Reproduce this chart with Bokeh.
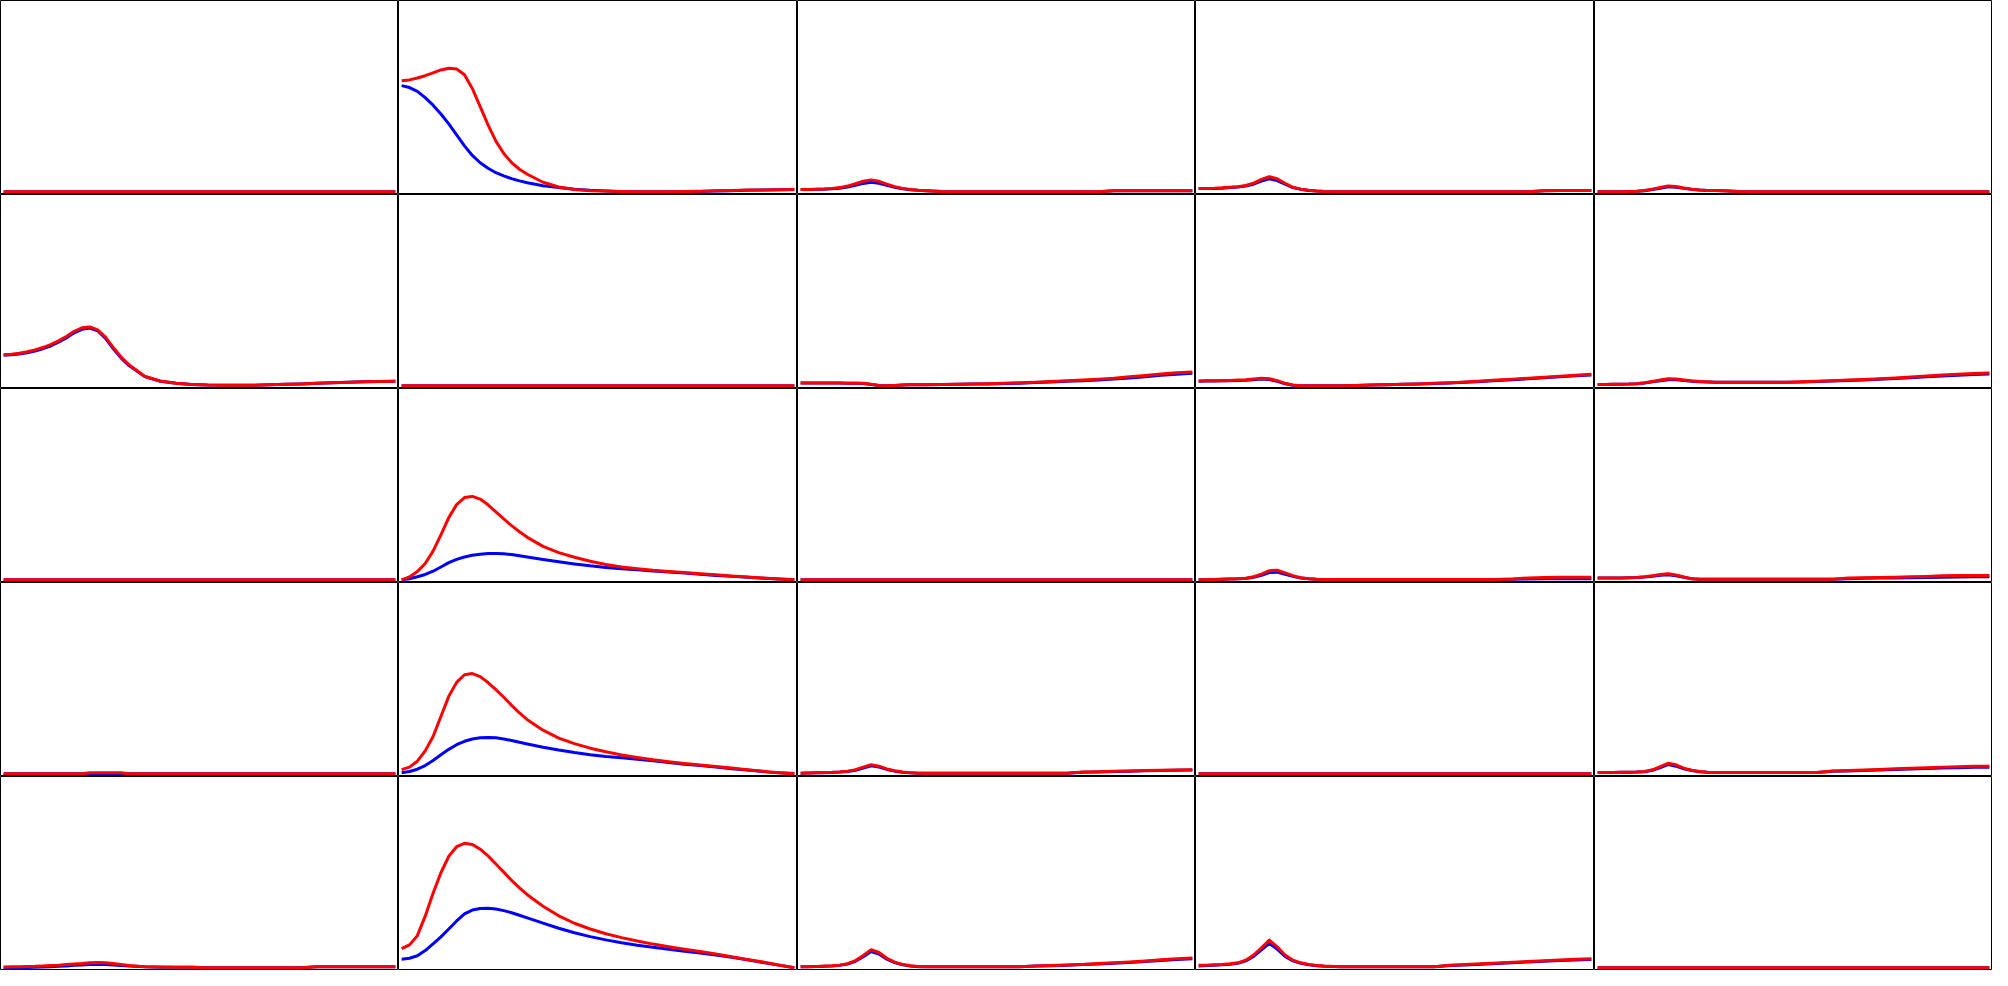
from bokeh.plotting import figure
from bokeh.layouts import gridplot
from bokeh.models import Range1d
from bokeh.embed import file_html
from bokeh.resources import INLINE

# shared x positions (fraction of each panel's time axis)
x_vals = [0.00, 0.02, 0.04, 0.06, 0.08, 0.10, 0.12, 0.14, 0.16, 0.18, 0.20, 0.22, 0.24,
          0.26, 0.28, 0.30, 0.32, 0.36, 0.40, 0.44, 0.48, 0.52, 0.56, 0.60, 0.64, 0.68,
          0.72, 0.76, 0.80, 0.84, 0.88, 0.92, 0.96, 1.00]

flat = [0, 0, 0, 0, 0, 0, 0, 0, 0, 0, 0, 0, 0, 0, 0, 0, 0,
        0, 0, 0, 0, 0, 0, 0, 0, 0, 0, 0, 0, 0, 0, 0, 0, 0]

# ---- row 1 ----
blue_r1c1 = flat
red_r1c1 = flat
blue_r1c2 = [0.555, 0.545, 0.525, 0.492, 0.453, 0.407, 0.355, 0.298, 0.24, 0.19, 0.152, 0.123, 0.1,
             0.083, 0.069, 0.057, 0.047, 0.032, 0.022, 0.014, 0.008, 0.004, 0.001, 0.0, 0.0, 0.0,
             0.001, 0.002, 0.004, 0.006, 0.008, 0.01, 0.011, 0.012]
red_r1c2 = [0.58, 0.585, 0.595, 0.607, 0.622, 0.637, 0.646, 0.642, 0.612, 0.54, 0.445, 0.35, 0.265,
            0.2, 0.153, 0.118, 0.092, 0.05, 0.025, 0.012, 0.006, 0.004, 0.002, 0.001, 0.0, 0.001,
            0.002, 0.003, 0.005, 0.007, 0.009, 0.01, 0.011, 0.012]
blue_r1c3 = [0.012, 0.012, 0.013, 0.014, 0.016, 0.019, 0.025, 0.034, 0.044, 0.05, 0.045, 0.034, 0.024,
             0.016, 0.011, 0.008, 0.006, 0.002, 0.0, 0.0, 0.0, 0.0, 0.0, 0.0, 0.0, 0.0,
             0.0, 0.0, 0.005, 0.006, 0.006, 0.006, 0.006, 0.006]
red_r1c3 = [0.012, 0.012, 0.013, 0.015, 0.018, 0.022, 0.03, 0.042, 0.055, 0.062, 0.055, 0.04, 0.027,
            0.018, 0.012, 0.008, 0.006, 0.002, 0.0, 0.0, 0.0, 0.0, 0.0, 0.0, 0.0, 0.0,
            0.0, 0.0, 0.005, 0.006, 0.006, 0.006, 0.006, 0.006]
blue_r1c4 = [0.017, 0.017, 0.018, 0.019, 0.022, 0.025, 0.03, 0.04, 0.056, 0.068, 0.059, 0.04, 0.022,
             0.013, 0.007, 0.004, 0.002, 0.0, 0.0, 0.0, 0.0, 0.0, 0.0, 0.0, 0.0, 0.0,
             0.0, 0.0, 0.0, 0.0, 0.006, 0.007, 0.007, 0.007]
red_r1c4 = [0.018, 0.018, 0.019, 0.021, 0.024, 0.027, 0.033, 0.045, 0.065, 0.079, 0.068, 0.045, 0.024,
            0.014, 0.008, 0.004, 0.002, 0.0, 0.0, 0.0, 0.0, 0.0, 0.0, 0.0, 0.0, 0.0,
            0.0, 0.0, 0.0, 0.0, 0.006, 0.007, 0.007, 0.007]
blue_r1c5 = [0.0, 0.0, 0.0, 0.001, 0.002, 0.003, 0.006, 0.012, 0.019, 0.026, 0.024, 0.018, 0.013,
             0.009, 0.007, 0.007, 0.006, 0.002, 0.0, 0.0, 0.0, 0.0, 0.0, 0.0, 0.0, 0.0,
             0.0, 0.0, 0.0, 0.0, 0.0, 0.0, 0.0, 0.0]
red_r1c5 = [0.0, 0.0, 0.0, 0.001, 0.002, 0.003, 0.007, 0.014, 0.023, 0.031, 0.028, 0.02, 0.014,
            0.009, 0.007, 0.007, 0.006, 0.002, 0.0, 0.0, 0.0, 0.0, 0.0, 0.0, 0.0, 0.0,
            0.0, 0.0, 0.0, 0.0, 0.0, 0.0, 0.0, 0.0]

# ---- row 2 ----
blue_r2c1 = [0.16, 0.162, 0.166, 0.173, 0.182, 0.194, 0.208, 0.228, 0.25, 0.277, 0.295, 0.302, 0.288,
             0.248, 0.193, 0.145, 0.106, 0.048, 0.024, 0.013, 0.007, 0.004, 0.003, 0.003, 0.003, 0.005,
             0.008, 0.01, 0.013, 0.016, 0.019, 0.021, 0.023, 0.024]
red_r2c1 = [0.162, 0.165, 0.17, 0.178, 0.188, 0.2, 0.215, 0.235, 0.258, 0.285, 0.303, 0.308, 0.292,
            0.255, 0.2, 0.15, 0.11, 0.05, 0.025, 0.013, 0.007, 0.004, 0.003, 0.003, 0.003, 0.005,
            0.008, 0.01, 0.013, 0.016, 0.019, 0.021, 0.023, 0.024]
blue_r2c2 = flat
red_r2c2 = flat
blue_r2c3 = [0.015, 0.015, 0.015, 0.015, 0.015, 0.015, 0.014, 0.014, 0.012, 0.007, 0.002, 0.0, 0.002,
             0.004, 0.005, 0.005, 0.006, 0.007, 0.008, 0.009, 0.01, 0.012, 0.014, 0.017, 0.02, 0.024,
             0.027, 0.031, 0.035, 0.041, 0.048, 0.055, 0.061, 0.066]
red_r2c3 = [0.015, 0.015, 0.015, 0.015, 0.015, 0.015, 0.014, 0.014, 0.013, 0.008, 0.002, 0.0, 0.002,
            0.004, 0.005, 0.005, 0.006, 0.007, 0.008, 0.009, 0.011, 0.013, 0.016, 0.019, 0.023, 0.027,
            0.031, 0.035, 0.04, 0.047, 0.054, 0.062, 0.068, 0.072]
blue_r2c4 = [0.024, 0.025, 0.025, 0.026, 0.027, 0.028, 0.029, 0.032, 0.035, 0.033, 0.024, 0.011, 0.003,
             0.0, 0.0, 0.0, 0.0, 0.001, 0.002, 0.004, 0.006, 0.008, 0.01, 0.012, 0.015, 0.019,
             0.023, 0.028, 0.032, 0.037, 0.042, 0.047, 0.052, 0.056]
red_r2c4 = [0.025, 0.026, 0.026, 0.027, 0.028, 0.03, 0.032, 0.036, 0.04, 0.037, 0.027, 0.013, 0.004,
            0.001, 0.0, 0.0, 0.0, 0.001, 0.002, 0.004, 0.006, 0.008, 0.01, 0.013, 0.016, 0.02,
            0.025, 0.03, 0.035, 0.04, 0.045, 0.05, 0.055, 0.06]
blue_r2c5 = [0.007, 0.007, 0.008, 0.008, 0.009, 0.011, 0.015, 0.021, 0.027, 0.032, 0.032, 0.028, 0.024,
             0.021, 0.02, 0.019, 0.019, 0.019, 0.019, 0.019, 0.019, 0.02, 0.023, 0.025, 0.028, 0.031,
             0.034, 0.038, 0.042, 0.047, 0.051, 0.055, 0.059, 0.062]
red_r2c5 = [0.007, 0.007, 0.008, 0.008, 0.009, 0.011, 0.016, 0.023, 0.03, 0.037, 0.036, 0.031, 0.026,
            0.023, 0.021, 0.019, 0.019, 0.019, 0.019, 0.019, 0.019, 0.021, 0.024, 0.027, 0.03, 0.033,
            0.037, 0.041, 0.046, 0.051, 0.056, 0.06, 0.064, 0.067]

# ---- row 3 ----
blue_r3c1 = flat
red_r3c1 = flat
blue_r3c2 = [0.0, 0.006, 0.016, 0.028, 0.045, 0.067, 0.09, 0.107, 0.119, 0.128, 0.134, 0.137, 0.138,
             0.136, 0.132, 0.126, 0.119, 0.106, 0.094, 0.083, 0.073, 0.065, 0.058, 0.052, 0.046, 0.041,
             0.035, 0.029, 0.023, 0.018, 0.013, 0.008, 0.004, 0.0]
red_r3c2 = [0.0, 0.015, 0.043, 0.085, 0.15, 0.235, 0.325, 0.393, 0.43, 0.436, 0.422, 0.392, 0.355,
            0.318, 0.283, 0.251, 0.222, 0.175, 0.142, 0.118, 0.097, 0.08, 0.067, 0.058, 0.05, 0.044,
            0.038, 0.032, 0.026, 0.02, 0.015, 0.009, 0.004, 0.0]
blue_r3c3 = flat
red_r3c3 = flat
blue_r3c4 = [0.0, 0.001, 0.002, 0.003, 0.004, 0.005, 0.007, 0.013, 0.024, 0.038, 0.04, 0.029, 0.018,
             0.009, 0.005, 0.003, 0.002, 0.002, 0.002, 0.002, 0.002, 0.002, 0.002, 0.002, 0.002, 0.002,
             0.002, 0.002, 0.003, 0.004, 0.005, 0.005, 0.006, 0.006]
red_r3c4 = [0.0, 0.001, 0.002, 0.003, 0.004, 0.005, 0.008, 0.016, 0.03, 0.048, 0.05, 0.036, 0.022,
            0.011, 0.006, 0.003, 0.002, 0.002, 0.002, 0.002, 0.002, 0.002, 0.002, 0.002, 0.002, 0.002,
            0.002, 0.002, 0.004, 0.01, 0.012, 0.013, 0.014, 0.014]
blue_r3c5 = [0.009, 0.009, 0.01, 0.01, 0.011, 0.012, 0.015, 0.019, 0.024, 0.027, 0.021, 0.013, 0.005,
             0.003, 0.003, 0.003, 0.003, 0.003, 0.003, 0.003, 0.003, 0.003, 0.003, 0.003, 0.006, 0.008,
             0.009, 0.01, 0.011, 0.012, 0.014, 0.015, 0.016, 0.016]
red_r3c5 = [0.009, 0.009, 0.01, 0.01, 0.011, 0.012, 0.016, 0.022, 0.028, 0.032, 0.025, 0.015, 0.006,
            0.003, 0.003, 0.003, 0.003, 0.003, 0.003, 0.003, 0.003, 0.003, 0.003, 0.003, 0.009, 0.011,
            0.012, 0.014, 0.016, 0.018, 0.021, 0.022, 0.022, 0.022]

# ---- row 4 ----
blue_r4c1 = flat
red_r4c1 = [0.0, 0.0, 0.0, 0.0, 0.0, 0.0, 0.0, 0.0, 0.0, 0.0, 0.0, 0.006, 0.006,
            0.006, 0.006, 0.006, 0.0, 0.0, 0.0, 0.0, 0.0, 0.0, 0.0, 0.0, 0.0, 0.0,
            0.0, 0.0, 0.0, 0.0, 0.0, 0.0, 0.0, 0.0]
blue_r4c2 = [0.006, 0.012, 0.024, 0.043, 0.07, 0.1, 0.128, 0.152, 0.17, 0.182, 0.188, 0.19, 0.188,
             0.182, 0.174, 0.165, 0.156, 0.139, 0.124, 0.111, 0.1, 0.091, 0.084, 0.076, 0.068, 0.059,
             0.05, 0.043, 0.035, 0.027, 0.02, 0.012, 0.006, 0.002]
red_r4c2 = [0.022, 0.035, 0.066, 0.12, 0.195, 0.3, 0.405, 0.478, 0.518, 0.524, 0.508, 0.477, 0.44,
            0.4, 0.358, 0.318, 0.283, 0.228, 0.187, 0.158, 0.134, 0.115, 0.098, 0.085, 0.073, 0.063,
            0.054, 0.046, 0.038, 0.03, 0.021, 0.013, 0.006, 0.0]
blue_r4c3 = [0.003, 0.004, 0.005, 0.006, 0.007, 0.009, 0.012, 0.019, 0.03, 0.042, 0.035, 0.023, 0.014,
             0.008, 0.005, 0.003, 0.003, 0.003, 0.003, 0.003, 0.003, 0.003, 0.003, 0.003, 0.003, 0.003,
             0.008, 0.01, 0.012, 0.014, 0.016, 0.018, 0.019, 0.02]
red_r4c3 = [0.003, 0.004, 0.005, 0.007, 0.008, 0.01, 0.014, 0.022, 0.035, 0.048, 0.04, 0.026, 0.016,
            0.009, 0.005, 0.003, 0.003, 0.003, 0.003, 0.003, 0.003, 0.003, 0.003, 0.003, 0.003, 0.003,
            0.009, 0.011, 0.013, 0.015, 0.017, 0.019, 0.02, 0.021]
blue_r4c4 = flat
red_r4c4 = flat
blue_r4c5 = [0.007, 0.007, 0.007, 0.008, 0.008, 0.009, 0.011, 0.018, 0.033, 0.048, 0.04, 0.026, 0.017,
             0.011, 0.008, 0.007, 0.007, 0.007, 0.007, 0.007, 0.007, 0.007, 0.007, 0.013, 0.015, 0.017,
             0.02, 0.022, 0.025, 0.028, 0.03, 0.032, 0.034, 0.035]
red_r4c5 = [0.007, 0.007, 0.007, 0.008, 0.008, 0.009, 0.012, 0.021, 0.038, 0.055, 0.047, 0.03, 0.019,
            0.012, 0.008, 0.007, 0.007, 0.007, 0.007, 0.007, 0.007, 0.007, 0.007, 0.015, 0.017, 0.02,
            0.023, 0.026, 0.029, 0.032, 0.035, 0.037, 0.039, 0.04]

# ---- row 5 ----
blue_r5c1 = [0.0, 0.0, 0.001, 0.002, 0.003, 0.004, 0.006, 0.008, 0.01, 0.013, 0.015, 0.017, 0.018,
             0.017, 0.015, 0.012, 0.009, 0.005, 0.003, 0.003, 0.003, 0.0, 0.0, 0.0, 0.0, 0.0,
             0.0, 0.0, 0.005, 0.005, 0.005, 0.005, 0.005, 0.005]
red_r5c1 = [0.004, 0.005, 0.006, 0.007, 0.008, 0.01, 0.012, 0.014, 0.017, 0.02, 0.023, 0.027, 0.028,
            0.026, 0.022, 0.017, 0.012, 0.006, 0.004, 0.003, 0.003, 0.0, 0.0, 0.0, 0.0, 0.0,
            0.0, 0.0, 0.005, 0.005, 0.005, 0.005, 0.005, 0.005]
blue_r5c2 = [0.045, 0.05, 0.063, 0.09, 0.125, 0.162, 0.203, 0.245, 0.282, 0.302, 0.31, 0.311, 0.307,
             0.299, 0.288, 0.275, 0.261, 0.234, 0.207, 0.183, 0.163, 0.146, 0.131, 0.118, 0.107, 0.097,
             0.087, 0.077, 0.067, 0.055, 0.042, 0.028, 0.014, 0.0]
red_r5c2 = [0.1, 0.12, 0.168, 0.27, 0.39, 0.497, 0.583, 0.633, 0.651, 0.645, 0.62, 0.585, 0.543,
            0.5, 0.457, 0.418, 0.382, 0.322, 0.272, 0.233, 0.203, 0.178, 0.158, 0.14, 0.124, 0.11,
            0.097, 0.085, 0.072, 0.058, 0.044, 0.03, 0.015, 0.0]
blue_r5c3 = [0.005, 0.006, 0.007, 0.008, 0.01, 0.013, 0.02, 0.034, 0.058, 0.085, 0.072, 0.045, 0.027,
             0.016, 0.01, 0.006, 0.005, 0.005, 0.005, 0.005, 0.005, 0.005, 0.005, 0.009, 0.011, 0.014,
             0.017, 0.02, 0.024, 0.028, 0.033, 0.038, 0.043, 0.047]
red_r5c3 = [0.005, 0.006, 0.007, 0.009, 0.011, 0.014, 0.022, 0.038, 0.065, 0.095, 0.08, 0.05, 0.03,
            0.018, 0.011, 0.007, 0.005, 0.005, 0.005, 0.005, 0.005, 0.005, 0.005, 0.01, 0.012, 0.015,
            0.018, 0.022, 0.026, 0.031, 0.036, 0.042, 0.047, 0.051]
blue_r5c4 = [0.01, 0.012, 0.014, 0.016, 0.019, 0.024, 0.036, 0.06, 0.094, 0.128, 0.098, 0.06, 0.036,
             0.024, 0.016, 0.011, 0.008, 0.005, 0.005, 0.005, 0.005, 0.005, 0.005, 0.005, 0.012, 0.015,
             0.019, 0.023, 0.027, 0.031, 0.034, 0.038, 0.041, 0.044]
red_r5c4 = [0.013, 0.014, 0.016, 0.018, 0.021, 0.026, 0.04, 0.067, 0.105, 0.145, 0.11, 0.067, 0.04,
            0.026, 0.018, 0.012, 0.009, 0.006, 0.005, 0.005, 0.005, 0.005, 0.005, 0.005, 0.014, 0.017,
            0.021, 0.025, 0.029, 0.033, 0.037, 0.041, 0.045, 0.048]
blue_r5c5 = flat
red_r5c5 = flat

panels = [
    [(blue_r1c1, red_r1c1), (blue_r1c2, red_r1c2), (blue_r1c3, red_r1c3), (blue_r1c4, red_r1c4), (blue_r1c5, red_r1c5)],
    [(blue_r2c1, red_r2c1), (blue_r2c2, red_r2c2), (blue_r2c3, red_r2c3), (blue_r2c4, red_r2c4), (blue_r2c5, red_r2c5)],
    [(blue_r3c1, red_r3c1), (blue_r3c2, red_r3c2), (blue_r3c3, red_r3c3), (blue_r3c4, red_r3c4), (blue_r3c5, red_r3c5)],
    [(blue_r4c1, red_r4c1), (blue_r4c2, red_r4c2), (blue_r4c3, red_r4c3), (blue_r4c4, red_r4c4), (blue_r4c5, red_r4c5)],
    [(blue_r5c1, red_r5c1), (blue_r5c2, red_r5c2), (blue_r5c3, red_r5c3), (blue_r5c4, red_r5c4), (blue_r5c5, red_r5c5)],
]

col_widths = [398, 399, 398, 399, 398]
row_height = 194

rows = []
for r, row in enumerate(panels):
    figs = []
    for c, (blue, red) in enumerate(row):
        p = figure(width=col_widths[c], height=row_height,
                   x_range=Range1d(-0.008, 1.008), y_range=Range1d(-0.014, 1.0),
                   toolbar_location=None, output_backend="svg",
                   x_axis_location=None, y_axis_location=None,
                   min_border=0, outline_line_color="black", outline_line_width=1,
                   background_fill_color="white", border_fill_color="white")
        p.xgrid.visible = False
        p.ygrid.visible = False
        p.line(x_vals, blue, line_color="#0000ff", line_width=3, line_join="round")
        p.line(x_vals, red, line_color="#ff0000", line_width=3, line_join="round")
        figs.append(p)
    rows.append(figs)

grid = gridplot(rows, toolbar_location=None)

open("out.html", "w").write(file_html(grid, INLINE))
